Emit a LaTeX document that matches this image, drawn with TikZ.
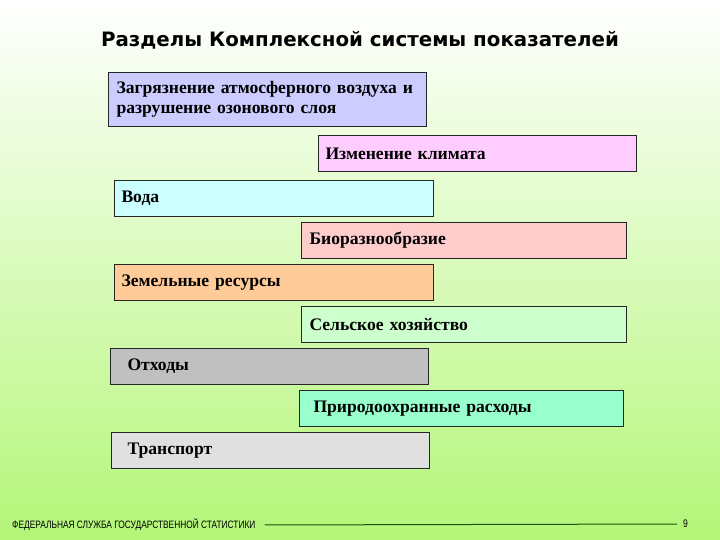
\documentclass[tikz,border=0pt]{standalone}
\usepackage{fontspec}
\setmainfont{Liberation Serif}
\newfontfamily\zagolovok{DejaVu Sans}
\newfontfamily\podval[FakeStretch=0.78]{Liberation Sans}
\usetikzlibrary{positioning}

\definecolor{fonniz}{RGB}{180,246,120}
\definecolor{lavanda}{RGB}{204,204,255}
\definecolor{rozovyj}{RGB}{255,204,255}
\definecolor{goluboj}{RGB}{204,255,255}
\definecolor{krasnyj}{RGB}{255,204,204}
\definecolor{persik}{RGB}{255,204,153}
\definecolor{salatnyj}{RGB}{204,255,204}
\definecolor{seryj}{RGB}{192,192,192}
\definecolor{akva}{RGB}{153,255,204}
\definecolor{svetloseryj}{RGB}{224,224,224}
\definecolor{liniya}{RGB}{30,80,10}

\tikzset{
  razdel/.style={draw=black!85, line width=1pt, anchor=north west,
    minimum height=36pt, inner ysep=0pt, align=left,
    font=\fontsize{17.6}{20.5}\selectfont\bfseries},
}

\begin{document}
\begin{tikzpicture}[x=1pt, y=-1pt]
  % fon
  \shade[top color=white, bottom color=fonniz] (0,0) rectangle (720,540);
  % zagolovok
  \node (title) at (360,40) {\zagolovok\bfseries\fontsize{19.8}{23}\selectfont Разделы Комплексной системы показателей};
  % razdely
  \node[razdel, fill=lavanda, minimum height=54pt, text width=302pt, inner xsep=8pt] (zagr) at (108,72)
    {Загрязнение атмосферного воздуха и\\разрушение озонового слоя};
  \node[razdel, fill=rozovyj, text width=304pt, inner xsep=7pt] (klimat) at (318,135) {Изменение климата};
  \node[razdel, fill=goluboj, text width=305pt, inner xsep=7pt] (voda) at (114,180) {Вода};
  \node[razdel, fill=krasnyj, text width=309pt, inner xsep=8pt] (bio) at (301,222) {Биоразнообразие};
  \node[razdel, fill=persik, text width=305pt, inner xsep=7pt] (zemlya) at (114,264) {Земельные ресурсы};
  \node[razdel, fill=salatnyj, text width=309pt, inner xsep=8pt] (selhoz) at (301,306) {Сельское хозяйство};
  \node[razdel, fill=seryj, text width=284pt, inner xsep=17pt] (othody) at (110,348) {Отходы};
  \node[razdel, fill=akva, text width=296pt, inner xsep=14pt] (rashody) at (299,390) {Природоохранные расходы};
  \node[razdel, fill=svetloseryj, text width=286pt, inner xsep=16pt] (transport) at (111,432) {Транспорт};
  % podval
  \node[anchor=west, inner sep=0pt, font=\podval\fontsize{10.7}{11}\selectfont] (footer) at (12,525)
    {ФЕДЕРАЛЬНАЯ СЛУЖБА ГОСУДАРСТВЕННОЙ СТАТИСТИКИ};
  \node[anchor=west, inner sep=0pt, font=\podval\fontsize{11}{11}\selectfont] (stranica) at (683,524) {9};
  \draw[liniya, line width=1pt, shorten <=9pt, shorten >=6pt] (footer.east) -- (stranica.west);
\end{tikzpicture}
\end{document}
